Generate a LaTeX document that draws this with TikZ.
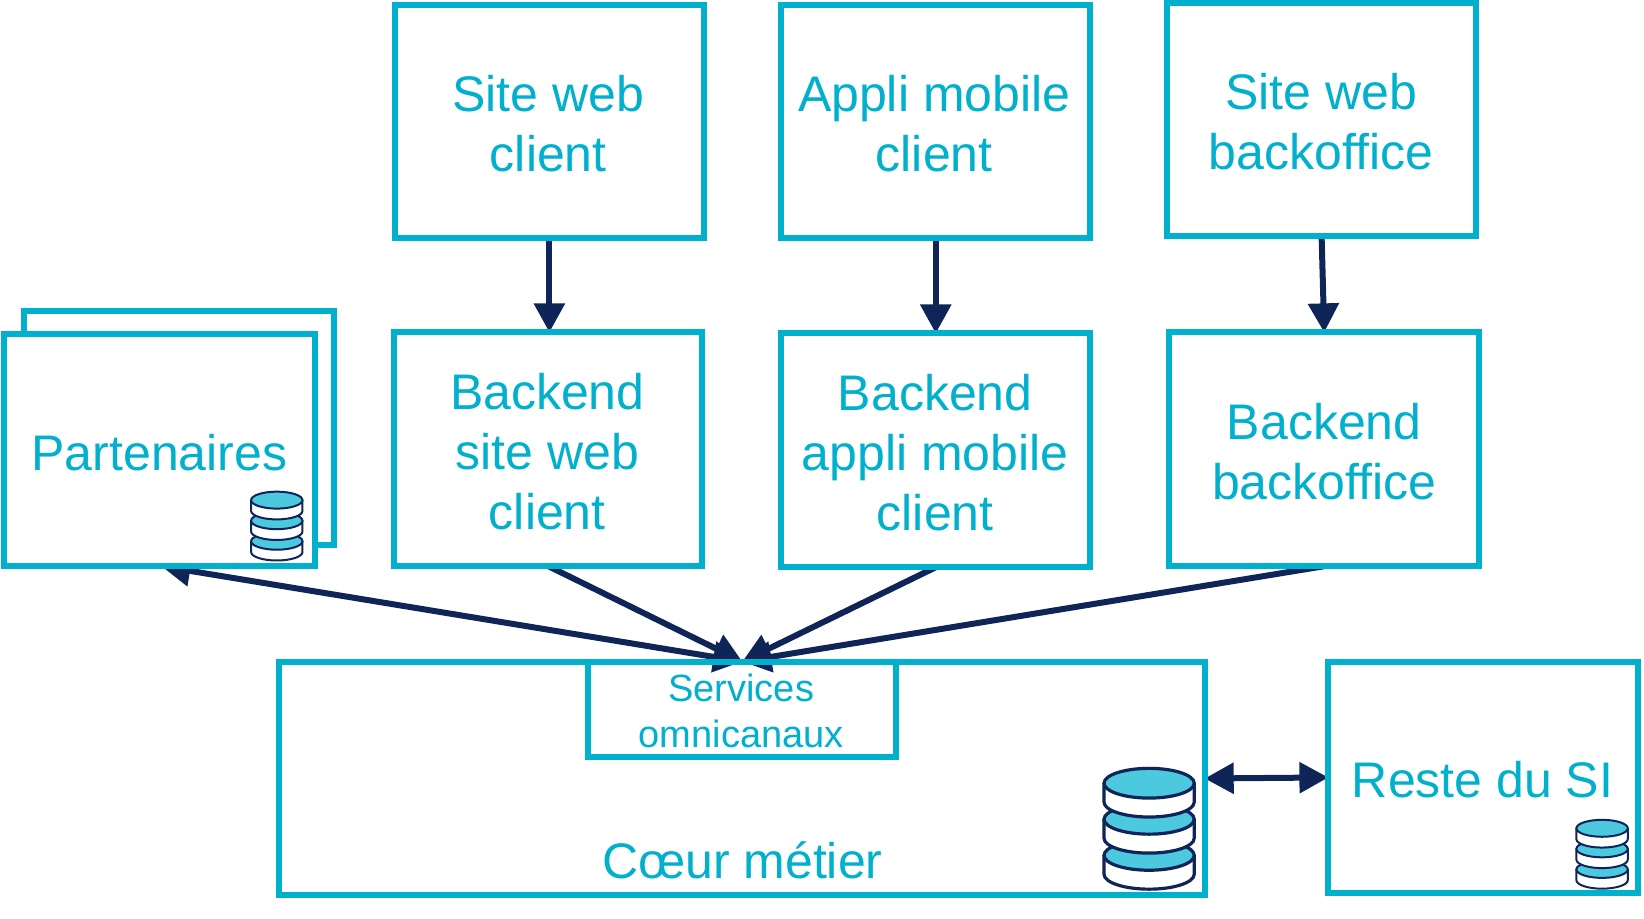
\documentclass[tikz,border=0pt]{standalone}
\usepackage{fontspec}
\setmainfont{Liberation Sans}
\usetikzlibrary{arrows.meta}
\definecolor{cy}{HTML}{00B0CC}
\definecolor{nv}{HTML}{0F2557}
\definecolor{lb}{HTML}{4CC8DF}
\pgfdeclarelayer{bg}
\pgfsetlayers{bg,main}
\newcommand{\bx}[6][]{%
  \pgfmathsetmacro{\bw}{(#5-#3)*0.5242}%
  \pgfmathsetmacro{\bh}{(#6-#4)*0.5242}%
  \node[bx,minimum width=\bw pt,minimum height=\bh pt,#1] (#2) at ({(#3+#5)/2},{(#4+#6)/2}) {};}
\tikzset{
  x=0.5242pt,y=-0.5242pt,
  bx/.style={draw=cy,line width=3pt,inner sep=0pt,outer sep=0pt,rectangle},
  big/.style={text=cy,font=\fontsize{25pt}{30pt}\selectfont,align=center,inner sep=0pt},
  small/.style={text=cy,font=\fontsize{19pt}{23pt}\selectfont,align=center,inner sep=0pt},
  ar/.style={draw=nv,line width=3pt,-{Triangle[length=14.5pt,width=15pt]}},
  dar/.style={draw=nv,line width=3pt,{Triangle[length=14.5pt,width=15pt]}-{Triangle[length=14.5pt,width=15pt]}},
  pics/dbstack/.style n args={2}{code={%
    \foreach \o in {2,1,0}{%
      \path[draw=nv,line width=#2,fill=white,line join=round]
        (-#1,{(\o*0.8)*#1}) -- (-#1,{(\o*0.8+0.42)*#1})
        arc[start angle=180,end angle=0,x radius=#1,y radius=0.33*#1]
        -- (#1,{(\o*0.8)*#1}) -- cycle;
      \path[draw=nv,line width=#2,fill=lb]
        (0,{(\o*0.8)*#1}) ellipse[x radius=#1,y radius=0.33*#1];
    }}},
}
\begin{document}
\begin{tikzpicture}
\begin{pgfonlayer}{bg}
\fill[white] (0,0) rectangle (1568,876.5);
\end{pgfonlayer}
\useasboundingbox (0,0) rectangle (1568,876.5);
\bx{swc}{377}{5}{671}{227}
\bx{amc}{745}{5}{1040}{227}
\bx{swb}{1113}{3}{1408}{225}
\bx{bsw}{376}{317}{670}{540}
\bx{bam}{745}{318}{1040}{541}
\bx{bbo}{1115}{317}{1411}{540}
\bx{pb}{23}{297}{319}{520}
\bx[fill=white]{pf}{4}{319}{300}{540}
\bx{cm}{266}{631}{1149}{854}
\bx{so}{561}{631}{855}{722}
\bx{rs}{1267}{631}{1562}{852}
\node[big] (t1) at (523,118) {Site web\\client};
\node[big] (t2) at (891,118) {Appli mobile\\client};
\node[big] (t3) at (1260,116) {Site web\\backoffice};
\node[big] (t4) at (522,431) {Backend\\site web\\client};
\node[big] (t5) at (892,432) {Backend\\appli mobile\\client};
\node[big] (t6) at (1263,431) {Backend\\backoffice};
\node[big] (t7) at (152,432) {Partenaires};
\node[big] (t8) at (708,821) {Cœur métier};
\node[big] (t9) at (1414,744) {Reste du SI};
\node[small] (t10) at (707,678) {Services\\omnicanaux};
\pic at (264,477) {dbstack={24.5}{1pt}};
\pic at (1096,747) {dbstack={43}{1.6pt}};
\pic at (1528,790) {dbstack={24.5}{1pt}};
\begin{pgfonlayer}{bg}
\draw[ar] (swc.south) -- (bsw.north -| swc.south);
\draw[ar] (amc.south) -- (bam.north);
\draw[ar] (swb.south) -- (bbo.north);
\draw[dar] (so.north) -- ([xshift=1pt]pf.south);
\draw[ar] (bsw.south) -- (so.north);
\draw[ar] (bam.south) -- (so.north);
\draw[ar] (bbo.south) -- (so.north);
\draw[dar] (cm.east) -- (rs.west);
\end{pgfonlayer}
\end{tikzpicture}
\end{document}
